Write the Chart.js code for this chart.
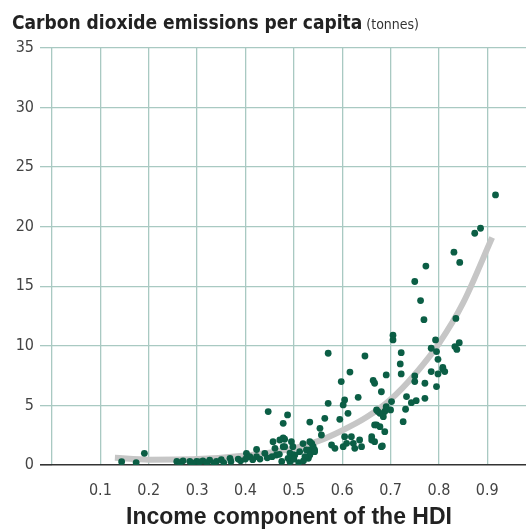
<!DOCTYPE html>
<html>
<head>
<meta charset="utf-8">
<script src="https://cdn.jsdelivr.net/npm/chart.js@4/dist/chart.umd.min.js"></script>
<style>
  body { margin: 0; background: #fff; }
  canvas { display: block; }
</style>
</head>
<body>
<canvas id="myChart" width="526" height="531"></canvas>
<script>
// income component of HDI / CO2 emissions per capita (tonnes)
const incomeIndex = [
  0.144, 0.174, 0.191, 0.258, 0.271, 0.285, 0.299, 0.312, 0.326, 0.34,
  0.35, 0.368, 0.385, 0.402, 0.409, 0.423, 0.423, 0.44, 0.447, 0.461,
  0.464, 0.478, 0.481, 0.478, 0.487, 0.495, 0.492, 0.499, 0.512, 0.519,
  0.533, 0.533, 0.53, 0.571, 0.647, 0.616, 0.598, 0.664, 0.667, 0.681,
  0.691, 0.571, 0.605, 0.602, 0.633, 0.612, 0.595, 0.564, 0.554, 0.557,
  0.578, 0.585, 0.605, 0.609, 0.619, 0.623, 0.636, 0.602, 0.626, 0.64,
  0.661, 0.667, 0.681, 0.671, 0.678, 0.674, 0.688, 0.691, 0.526, 0.537,
  0.54, 0.543, 0.533, 0.523, 0.705, 0.705, 0.722, 0.72, 0.722, 0.75,
  0.75, 0.771, 0.795, 0.784, 0.798, 0.808, 0.812, 0.784, 0.795, 0.798,
  0.793, 0.833, 0.837, 0.842, 0.733, 0.753, 0.743, 0.771, 0.731, 0.726,
  0.702, 0.691, 0.7, 0.671, 0.678, 0.685, 0.667, 0.688, 0.661, 0.683,
  0.917, 0.886, 0.874, 0.831, 0.843, 0.773, 0.75, 0.762, 0.769, 0.835,
  0.808, 0.478, 0.481, 0.498, 0.492, 0.502, 0.533, 0.543, 0.488, 0.265,
  0.29, 0.305, 0.32, 0.335, 0.355, 0.37, 0.39, 0.4, 0.415, 0.43,
  0.445, 0.455, 0.47, 0.475, 0.5, 0.51, 0.52, 0.457, 0.471
];
const co2PerCapita = [
  0.28, 0.2, 0.98, 0.3, 0.35, 0.3, 0.3, 0.35, 0.4, 0.3,
  0.45, 0.56, 0.5, 0.98, 0.7, 1.3, 0.7, 0.98, 4.48, 1.4,
  0.84, 1.54, 2.16, 3.5, 4.2, 1.96, 0.28, 0.84, 1.12, 1.8,
  3.6, 1.26, 0.56, 9.38, 9.15, 7.8, 7.0, 7.1, 6.86, 6.15,
  7.56, 5.18, 5.46, 5.04, 5.68, 4.34, 3.83, 3.92, 3.08, 2.52,
  1.68, 1.4, 2.38, 1.82, 2.38, 1.82, 2.1, 1.54, 1.4, 1.54,
  2.1, 1.96, 1.54, 3.36, 3.22, 4.48, 4.48, 4.9, 1.26, 1.82,
  1.54, 1.26, 0.84, 0.7, 10.9, 10.5, 9.43, 8.48, 7.64, 7.47,
  7.0, 6.86, 6.58, 7.84, 7.64, 8.03, 7.84, 9.8, 9.52, 8.87,
  10.5, 9.94, 9.7, 10.27, 5.74, 5.4, 5.23, 5.6, 4.68, 3.64,
  5.32, 4.76, 4.62, 4.62, 4.34, 4.06, 3.36, 2.8, 2.38, 1.6,
  22.67, 19.87, 19.45, 17.86, 17.0, 16.7, 15.4, 13.8, 12.2, 12.3,
  8.2, 2.27, 1.54, 1.54, 1.0, 0.84, 1.96, 1.12, 0.56, 0.2,
  0.15, 0.25, 0.2, 0.15, 0.2, 0.3, 0.35, 0.5, 0.45, 0.5,
  0.6, 0.7, 0.9, 0.3, 0.5, 0.2, 0.35, 1.96, 2.1
];

// grey trend curve
const trendX = [0.13, 0.2, 0.3, 0.4, 0.5, 0.55, 0.6, 0.65, 0.7, 0.75, 0.8, 0.85, 0.91];
const trendY = [0.6, 0.45, 0.5, 0.8, 1.4, 2.0, 2.9, 4.0, 5.5, 7.6, 10.2, 13.6, 19.1];

const xTicks = [0, 0.1, 0.2, 0.3, 0.4, 0.5, 0.6, 0.7, 0.8, 0.9];

const narrow = "'Liberation Sans Narrow', 'DejaVu Sans Condensed', sans-serif";

const titlePlugin = {
  id: "topTitle",
  afterDraw(chart) {
    const c = chart.ctx;
    c.save();
    c.textBaseline = "alphabetic";
    c.fillStyle = "#222";
    c.font = "bold 19px " + narrow;
    const t1 = "Carbon dioxide emissions per capita";
    c.fillText(t1, 12, 29);
    const w = c.measureText(t1).width;
    c.font = "14px " + narrow;
    c.fillStyle = "#333";
    c.fillText("(tonnes)", 12 + w + 4, 29);
    c.restore();
  },
};

const ctx = document.getElementById("myChart").getContext("2d");
let chart = new Chart(ctx, {
  type: "scatter",
  data: {
    datasets: [
      {
        label: "Countries",
        data: incomeIndex.map((x, i) => ({ x: x, y: co2PerCapita[i] })),
        backgroundColor: "#0b5e45",
        borderWidth: 0,
        pointRadius: 3.4,
        order: 1,
      },
      {
        label: "Trend",
        type: "line",
        data: trendX.map((x, i) => ({ x: x, y: trendY[i] })),
        borderColor: "#c6c6c6",
        borderWidth: 6,
        pointRadius: 0,
        cubicInterpolationMode: "monotone",
        borderCapStyle: "butt",
        order: 2,
      },
    ],
  },
  options: {
    responsive: false,
    animation: false,
    layout: { autoPadding: false, padding: { top: 48, right: 0, bottom: 0, left: 0 } },
    plugins: {
      legend: { display: false },
      tooltip: { enabled: false },
    },
    scales: {
      x: {
        type: "linear",
        min: 0,
        max: 0.98,
        afterBuildTicks: (axis) => {
          axis.ticks = xTicks.map((v) => ({ value: v }));
        },
        afterFit: (axis) => {
          axis.height = 66;
        },
        ticks: {
          padding: 16,
          color: "#444",
          font: { family: narrow, size: 16 },
          callback: (v) => (v === 0 ? "" : v.toFixed(1)),
        },
        grid: { color: "#a9c9c2", lineWidth: 1.3, drawTicks: false },
        border: { display: false },
        title: {
          display: true,
          text: "Income component of the HDI",
          color: "#222",
          font: { family: "'Liberation Sans', Arial, sans-serif", size: 23, weight: "bold" },
          padding: { top: 0, bottom: 0 },
        },
      },
      y: {
        min: 0,
        max: 35,
        afterFit: (axis) => {
          axis.width = 52;
        },
        ticks: {
          stepSize: 5,
          padding: 6,
          color: "#444",
          font: { family: narrow, size: 16 },
        },
        grid: {
          color: (c) => (c.tick && c.tick.value === 0 ? "#333" : "#a9c9c2"),
          lineWidth: (c) => (c.tick && c.tick.value === 0 ? 1.6 : 1.3),
          tickLength: 12,
        },
        border: { display: false },
      },
    },
  },
  plugins: [titlePlugin],
});
</script>
</body>
</html>
